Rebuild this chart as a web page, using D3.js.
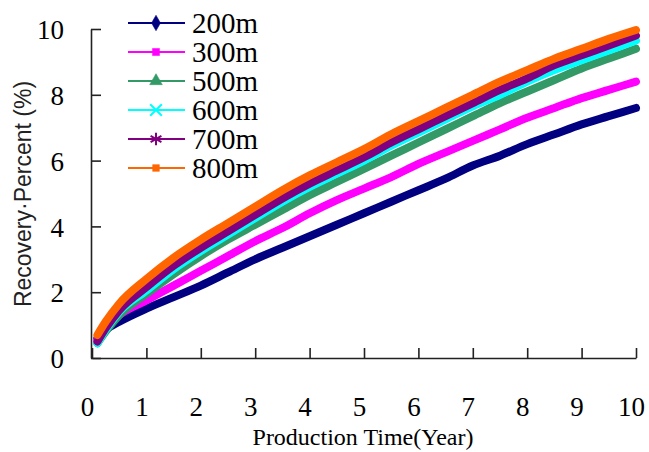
<!DOCTYPE html>
<html>
<head>
<meta charset="utf-8">
<script src="https://cdn.jsdelivr.net/npm/d3@7"></script>
<style>
  body { margin: 0; background: #fff; }
  svg { display: block; }
</style>
</head>
<body>
<svg id="chart"></svg>
<script>
const width = 649;
const height = 452;

// production time, years
const years = [0.1, 0.25, 0.5, 1, 1.5, 2, 2.5, 3, 3.5, 4, 4.5, 5, 5.5, 6, 6.5, 7, 7.5, 8, 8.5, 9, 9.5, 10];

// recovery percent (%) for each well spacing
const r200 = [0.6, 0.85, 1.1, 1.5, 1.85, 2.2, 2.6, 3.0, 3.35, 3.7, 4.05, 4.4, 4.75, 5.1, 5.45, 5.85, 6.15, 6.5, 6.8, 7.1, 7.35, 7.6];
const r300 = [0.55, 0.9, 1.3, 1.75, 2.2, 2.65, 3.1, 3.55, 3.95, 4.4, 4.8, 5.15, 5.5, 5.9, 6.25, 6.6, 6.95, 7.3, 7.6, 7.9, 8.15, 8.4];
const r500 = [0.45, 0.8, 1.3, 1.95, 2.55, 3.1, 3.6, 4.05, 4.5, 4.95, 5.35, 5.75, 6.15, 6.55, 6.95, 7.35, 7.75, 8.1, 8.45, 8.8, 9.1, 9.4];
const r600 = [0.45, 0.85, 1.4, 2.05, 2.7, 3.25, 3.75, 4.25, 4.75, 5.2, 5.6, 6.0, 6.45, 6.85, 7.25, 7.65, 8.0, 8.4, 8.75, 9.05, 9.35, 9.65];
const r700 = [0.5, 0.9, 1.45, 2.15, 2.8, 3.35, 3.85, 4.35, 4.85, 5.3, 5.7, 6.1, 6.55, 6.95, 7.35, 7.75, 8.15, 8.5, 8.9, 9.2, 9.5, 9.8];
const r800 = [0.7, 1.1, 1.65, 2.4, 3.05, 3.6, 4.1, 4.6, 5.1, 5.55, 5.95, 6.35, 6.8, 7.2, 7.6, 8.0, 8.4, 8.75, 9.1, 9.4, 9.7, 9.97];

const seriesNames = ["200m", "300m", "500m", "600m", "700m", "800m"];
const xTicks = [0, 1, 2, 3, 4, 5, 6, 7, 8, 9, 10];
const yTicks = [0, 2, 4, 6, 8, 10];

const colors = ["#000080", "#ff00ff", "#339966", "#00ffff", "#800080", "#ff6600"];
const symbols = [d3.symbolDiamond, d3.symbolSquare, d3.symbolTriangle, d3.symbolTimes, d3.symbolAsterisk, d3.symbolSquare];
const symbolSizes = [70, 50, 70, 90, 110, 45];
const filledSymbol = [true, true, true, false, false, true];

const seriesValues = [r200, r300, r500, r600, r700, r800];
const series = seriesNames.map((name, i) => ({
  name: name,
  color: colors[i],
  points: years.map((t, j) => ({ t: t, v: seriesValues[i][j] }))
}));

const svg = d3.select("#chart").attr("width", width).attr("height", height);

const x = d3.scaleLinear().domain([0, 10]).range([92, 636]);
const y = d3.scaleLinear().domain([0, 10]).range([358, 29]);

// series bands (dense markers in the original look like thick lines)
const line = d3.line()
  .x((d) => x(d.t))
  .y((d) => y(d.v))
  .curve(d3.curveMonotoneX);

svg.append("g")
  .selectAll("path")
  .data(series)
  .enter()
  .append("path")
  .attr("d", (d) => line(d.points))
  .attr("fill", "none")
  .attr("stroke", (d) => d.color)
  .attr("stroke-width", 8)
  .attr("stroke-linejoin", "round")
  .attr("stroke-linecap", "round");

// axes
const xAxis = svg.append("g")
  .attr("transform", `translate(0, ${y(0)})`)
  .call(d3.axisBottom(x).tickValues(xTicks).tickSizeInner(-10).tickSizeOuter(0));

xAxis.selectAll("text")
  .attr("y", 58)
  .attr("dy", 0)
  .attr("dx", -5)
  .style("font-family", "'Liberation Serif', 'Times New Roman', serif")
  .style("font-size", "27px")
  .style("fill", "#000");

const yAxis = svg.append("g")
  .attr("transform", `translate(${x(0) - 1}, 0)`)
  .call(d3.axisLeft(y).tickValues(yTicks).tickSizeInner(-10).tickSizeOuter(0));

yAxis.selectAll("text")
  .attr("x", -27)
  .attr("dy", "0.36em")
  .style("font-family", "'Liberation Serif', 'Times New Roman', serif")
  .style("font-size", "27px")
  .style("fill", "#000");

svg.selectAll(".domain, .tick line")
  .attr("stroke", "#222")
  .attr("stroke-width", 1.6);

// axis titles
svg.append("text")
  .attr("x", 363)
  .attr("y", 445)
  .attr("text-anchor", "middle")
  .style("font-family", "'Liberation Serif', 'Times New Roman', serif")
  .style("font-size", "24px")
  .text("Production Time(Year)");

svg.append("text")
  .attr("transform", "translate(31, 194) rotate(-90)")
  .attr("text-anchor", "middle")
  .style("font-family", "'Liberation Sans', Arial, sans-serif")
  .style("font-size", "23px")
  .style("fill", "#222")
  .text("Recovery·Percent (%)");

// legend
const legend = svg.append("g").attr("transform", "translate(128, 23)");

const rows = legend.selectAll("g")
  .data(series)
  .enter()
  .append("g")
  .attr("transform", (d, i) => `translate(0, ${i * 29})`);

rows.append("line")
  .attr("x1", 0)
  .attr("x2", 57)
  .attr("stroke", (d) => d.color)
  .attr("stroke-width", 2);

rows.append("path")
  .attr("transform", "translate(28, 0)")
  .attr("d", (d, i) => d3.symbol().type(symbols[i]).size(symbolSizes[i])())
  .attr("fill", (d, i) => (filledSymbol[i] ? d.color : "none"))
  .attr("stroke", (d) => d.color)
  .attr("stroke-width", (d, i) => (filledSymbol[i] ? 0.5 : 2));

rows.append("text")
  .attr("x", 64)
  .attr("y", 10)
  .style("font-family", "'Liberation Serif', 'Times New Roman', serif")
  .style("font-size", "29px")
  .text((d) => d.name);
</script>
</body>
</html>
